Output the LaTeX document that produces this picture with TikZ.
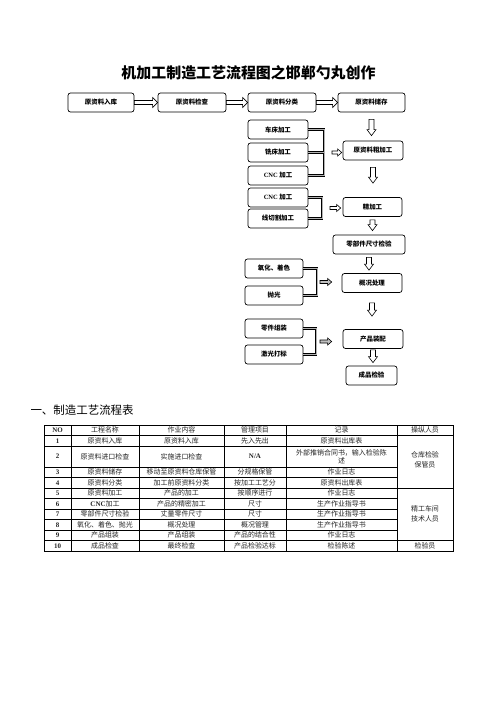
\documentclass[tikz,border=0pt]{standalone}
\usepackage{fontspec}
\setmainfont{Noto Sans CJK SC}
\newfontfamily\lat{Liberation Serif}
\usetikzlibrary{calc}

\tikzset{
  box/.style={draw, rounded corners=2.5bp, line width=0.7bp, fill=white, minimum height=19bp,
    inner sep=1bp, font=\bfseries\fontsize{6.5}{7}\selectfont},
  brk/.style={draw, line width=0.7bp, double=gray!60, double distance=0.9bp},
  cell/.style={font=\fontsize{7}{8.5}\selectfont, text=black!85, inner sep=0pt, align=center},
}

% hollow block arrows, drawn from one point to another
\newcommand{\bigright}[2]{%
  \draw[fill=white, line width=0.6bp] let \p1=(#1), \p2=(#2) in
    (\x1,\y1+2bp) -- (\x2-5bp,\y1+2bp) -- (\x2-5bp,\y1+5bp) -- (\x2,\y1)
    -- (\x2-5bp,\y1-5bp) -- (\x2-5bp,\y1-2bp) -- (\x1,\y1-2bp) -- cycle;}
\newcommand{\smallright}[3][white]{%
  \draw[fill=#1, line width=0.6bp] let \p1=(#2), \p2=(#3) in
    (\x1,\y1+1.5bp) -- (\x2-4bp,\y1+1.5bp) -- (\x2-4bp,\y1+3.5bp) -- (\x2,\y1)
    -- (\x2-4bp,\y1-3.5bp) -- (\x2-4bp,\y1-1.5bp) -- (\x1,\y1-1.5bp) -- cycle;}
\newcommand{\bigdown}[2]{%
  \draw[fill=white, line width=0.6bp] let \p1=(#1), \p2=(#2) in
    (\x1-2.5bp,\y1) -- (\x1-2.5bp,\y2+6bp) -- (\x1-4.5bp,\y2+6bp) -- (\x1,\y2)
    -- (\x1+4.5bp,\y2+6bp) -- (\x1+2.5bp,\y2+6bp) -- (\x1+2.5bp,\y1) -- cycle;}

\begin{document}
\begin{tikzpicture}[x=1bp, y=-1bp]
    \path[use as bounding box, fill=white] (0,0) rectangle (496,702);

    % Title
    \node[font=\bfseries\fontsize{15}{18}\selectfont] (title) at (248.5,73) {机加工制造工艺流程图之邯郸勺丸创作};

    % Top row of the flow
    \node[box, minimum width=66bp] (rk) at (101,102.5) {原资料入库};
    \node[box, minimum width=68bp] (jc) at (192,102.5) {原资料检查};
    \node[box, minimum width=68bp] (fl) at (282,102.5) {原资料分类};
    \node[box, minimum width=67bp] (cc) at (371.5,102.5) {原资料储存};
    \bigright{rk.east}{jc.west}
    \bigright{jc.east}{fl.west}
    \bigright{fl.east}{cc.west}

    % Machining steps on the left
    \node[box, minimum width=60bp] (cc1) at (278,129.5) {车床加工};
    \node[box, minimum width=60bp] (xc) at (278,152.5) {铣床加工};
    \node[box, minimum width=60bp] (cnc1) at (278,175.5) {{\lat CNC} 加工};
    \node[box, minimum width=60bp] (cnc2) at (278,197.5) {{\lat CNC} 加工};
    \node[box, minimum width=60bp] (xq) at (278,218.5) {线切割加工};

    % Main column on the right
    \node[box, minimum width=60bp] (cjg) at (373,150.5) {原资料粗加工};
    \node[box, minimum width=59bp] (jjg) at (372.5,207) {精加工};
    \node[box, minimum width=72bp] (ljc) at (369,244.5) {零部件尺寸检验};
    \node[box, minimum width=60bp] (gk) at (372,283) {概况处理};
    \node[box, minimum width=60bp] (zp) at (373,339) {产品装配};
    \node[box, minimum width=51bp] (cj) at (371.5,375.5) {成品检验};

    % Finishing steps on the left
    \node[box, minimum width=58bp] (yh) at (274,268.5) {氧化、着色};
    \node[box, minimum width=58bp] (pg) at (274,295.5) {抛光};
    \node[box, minimum width=58bp] (zz) at (274,328.5) {零件组装};
    \node[box, minimum width=58bp] (jg) at (274,354.5) {激光打标};

    % Down arrows of the main column
    \bigdown{$(cc.south)+(0,7)$}{$(cjg.north)+(0,-5)$}
    \bigdown{$(cjg.south)+(0,7)$}{$(jjg.north)+(0,-14)$}
    \bigdown{$(jjg.south)+(0,3)$}{$(ljc.north)+(0,-4)$}
    \bigdown{$(ljc.south)+(0,3)$}{$(gk.north)+(0,-3)$}
    \bigdown{$(gk.south)+(0,10)$}{$(zp.north)+(0,-13)$}
    \bigdown{$(zp.south)+(0,1)$}{$(cj.north)+(0,-3)$}

    % Brackets joining the left boxes
    \coordinate (br1) at (324,152.5);
    \coordinate (br2) at (322,208);
    \coordinate (br3) at (317,282);
    \coordinate (br4) at (316,341.5);
    \draw[brk] (cc1.east) -- (cc1.east -| br1) -- (cnc1.east -| br1) -- (cnc1.east);
    \draw[brk] (xc.east) -- (xc.east -| br1);
    \draw[brk] (cnc2.east) -- (cnc2.east -| br2) -- (xq.east -| br2) -- (xq.east);
    \draw[brk] (yh.east) -- (yh.east -| br3) -- (pg.east -| br3) -- (pg.east);
    \draw[brk] (zz.east) -- (zz.east -| br4) -- (jg.east -| br4) -- (jg.east);

    % Side arrows into the main column
    \smallright{$(br1)+(8,0)$}{$(br1 -| cjg.west)+(-1,0)$}
    \smallright{$(br2)+(8,0)$}{$(br2 -| jjg.west)+(-2,0)$}
    \smallright[gray!50]{$(br3)+(3,0)$}{$(br3 -| gk.west)+(-10,0)$}
    \smallright[gray!50]{$(br4)+(4,0)$}{$(br4 -| zp.west)+(-11,0)$}

    % Heading of the table
    \node[anchor=west, font=\fontsize{11.5}{13}\selectfont] (head) at (27,410) {一、制造工艺流程表};

    % Table lines
    \draw[line width=0.7bp] (44,425) rectangle (453,551);
    \foreach \y in {435.5,488,540.5}
        \draw[line width=0.7bp] (44,\y) -- (453,\y);
    \foreach \y in {446,467,477.5,498.5,509,519.5,530}
        \draw[line width=0.7bp] (44,\y) -- (397,\y);
    \foreach \x in {71,139,224,286,397}
        \draw[line width=0.7bp] (\x,425) -- (\x,551);

    % Table header
    \node[cell] (h0) at (57.5,430.25) {\lat\bfseries NO};
    \node[cell] (h1) at (105,430.25) {工程名称};
    \node[cell] (h2) at (181.5,430.25) {作业内容};
    \node[cell] (h3) at (255,430.25) {管理项目};
    \node[cell] (h4) at (341.5,430.25) {记录};
    \node[cell] (h5) at (425,430.25) {操纵人员};

    % Table rows
    \foreach \y/\n/\a/\b/\c/\d [count=\i] in {
        440.75/1/原资料入库/原资料入库/先入先出/原资料出库表,
        456.5/2/原资料进口检查/实施进口检查/{{\lat\bfseries N/A}}/{外部推销合同书，输入检验陈\\述},
        472.25/3/原资料储存/移动至原资料仓库保管/分规格保管/作业日志,
        482.75/4/原资料分类/加工前原资料分类/按加工工艺分/原资料出库表,
        493.25/5/原资料加工/产品的加工/按顺序进行/作业日志,
        503.75/6/{{\lat\bfseries CNC}加工}/产品的精密加工/尺寸/生产作业指导书,
        514.25/7/零部件尺寸检验/丈量零件尺寸/尺寸/生产作业指导书,
        524.75/8/氧化、着色、抛光/概况处理/概况管理/生产作业指导书,
        535.25/9/产品组装/产品组装/产品的结合性/作业日志,
        545.75/10/成品检查/最终检查/产品检验达标/检验陈述}{
        \node[cell] (n\i) at (57.5,\y) {\lat\bfseries \n};
        \node[cell] (a\i) at (105,\y) {\a};
        \node[cell] (b\i) at (181.5,\y) {\b};
        \node[cell] (c\i) at (255,\y) {\c};
        \node[cell] (d\i) at (341.5,\y) {\d};
    }

    % Merged cells of the last column
    \node[cell, font=\fontsize{7}{10}\selectfont] (op1) at (425,460) {仓库检验\\保管员};
    \node[cell, font=\fontsize{7}{10}\selectfont] (op2) at (425,514.25) {精工车间\\技术人员};
    \node[cell] (op3) at (425,545.75) {检验员};
\end{tikzpicture}
\end{document}
